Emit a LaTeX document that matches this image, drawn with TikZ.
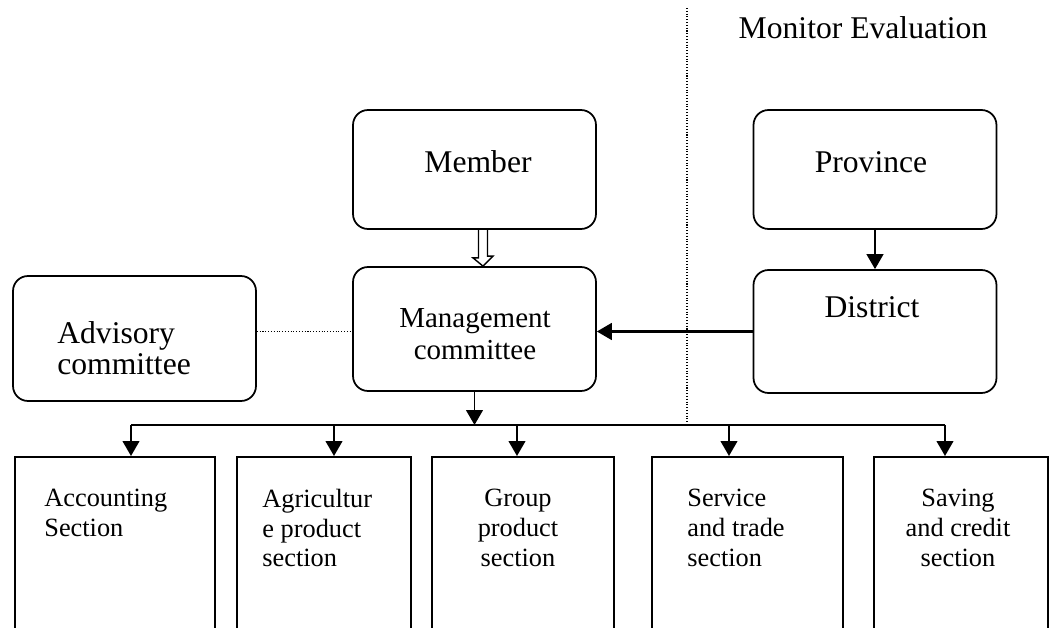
\documentclass[tikz,border=0pt]{standalone}
\usepackage{fontspec}
\setmainfont{Liberation Serif}
\usetikzlibrary{arrows.meta}

\tikzset{
  rbox/.style={draw, line width=1pt, rounded corners=0.3cm, inner sep=0pt, minimum width=4.86cm},
  secbox/.style={draw, line width=1pt, anchor=north west, inner sep=0pt, minimum height=4cm},
  bigtxt/.style={inner sep=0pt, align=left, font=\fontsize{18}{17.6}\selectfont},
  midtxt/.style={inner sep=0pt, align=center, font=\fontsize{16.5}{18}\selectfont},
  sectxt/.style={inner sep=0pt, font=\fontsize{15}{17}\selectfont},
  arr/.style={-{Triangle[width=9.5pt,length=8.5pt]}, line width=1.1pt},
  hollow/.style={line width=0.8pt},
  divline/.style={line width=0.6pt, densely dotted},
}

\begin{document}
\begin{tikzpicture}[x=0.02cm, y=-0.02cm]
  \useasboundingbox (0,0) rectangle (1049,628);
  \clip (0,0) rectangle (1049,628);

  \node[rbox, minimum height=2.38cm] (member) at (474.5,169.5) {};
  \node[bigtxt] (membertxt) at (478,162) {Member};

  \node[rbox, minimum height=2.48cm] (mgmt) at (474.5,329) {};
  \node[midtxt] (mgmttxt) at (475,334) {Management\\committee};

  \node[rbox, minimum height=2.5cm] (adv) at (134.5,338.5) {};
  \node[bigtxt, anchor=west] (advtxt) at (57,348) {Advisory\\committee};

  \node[rbox, minimum height=2.38cm] (prov) at (875,169.5) {};
  \node[bigtxt] (provtxt) at (871,162) {Province};

  \node[rbox, minimum height=2.46cm] (dist) at (875,331.5) {};
  \node[bigtxt] (disttxt) at (872,307) {District};

  \node[bigtxt] (montxt) at (863,28) {Monitor Evaluation};
  \coordinate (mtop) at (687,8);
  \coordinate (mbot) at (687,424);
  \draw[divline] (mtop) -- (mbot);

  \coordinate (hx) at (483,0);
  \draw[hollow] (member.south -| hx) ++(-4.5,0) -- ++(0,28) -- ++(-5.5,0)
    -- (mgmt.north -| hx) -- ++(10,-10) -- ++(-5.5,0) -- ++(0,-28);

  \draw[arr] (prov.south) -- (dist.north);
  \draw[arr, line width=1.3pt] (dist.west) -- (mgmt.east |- dist.west);
  \draw[divline] (adv.east |- dist.west) -- (mgmt.west |- dist.west);

  \node[secbox, minimum width=4cm] (s1) at (14,456) {};
  \node[secbox, minimum width=3.48cm] (s2) at (236,456) {};
  \node[secbox, minimum width=3.64cm] (s3) at (431,456) {};
  \node[secbox, minimum width=3.82cm] (s4) at (651,456) {};
  \node[secbox, minimum width=3.48cm] (s5) at (873,456) {};

  \node[sectxt, anchor=west, align=left] (s1txt) at (44,513) {Accounting\\Section};
  \node[sectxt, anchor=west, align=left] (s2txt) at (262,528) {Agricultur\\e product\\section};
  \node[sectxt, align=center] (s3txt) at (518,528) {Group\\product\\section};
  \node[sectxt, anchor=west, align=left] (s4txt) at (687,528) {Service\\and trade\\section};
  \node[sectxt, align=center] (s5txt) at (958,528) {Saving\\and credit\\section};

  \coordinate (b1) at (131,425);
  \coordinate (b2) at (334,425);
  \coordinate (b3) at (517,425);
  \coordinate (b4) at (729,425);
  \coordinate (b5) at (945,425);
  \draw[line width=1.1pt] (b1) -- (b5);
  \draw[arr] (mgmt.south) -- (mgmt.south |- b1);
  \foreach \i in {1,...,5}
    \draw[arr] (b\i) -- (b\i |- s\i.north);
\end{tikzpicture}
\end{document}
